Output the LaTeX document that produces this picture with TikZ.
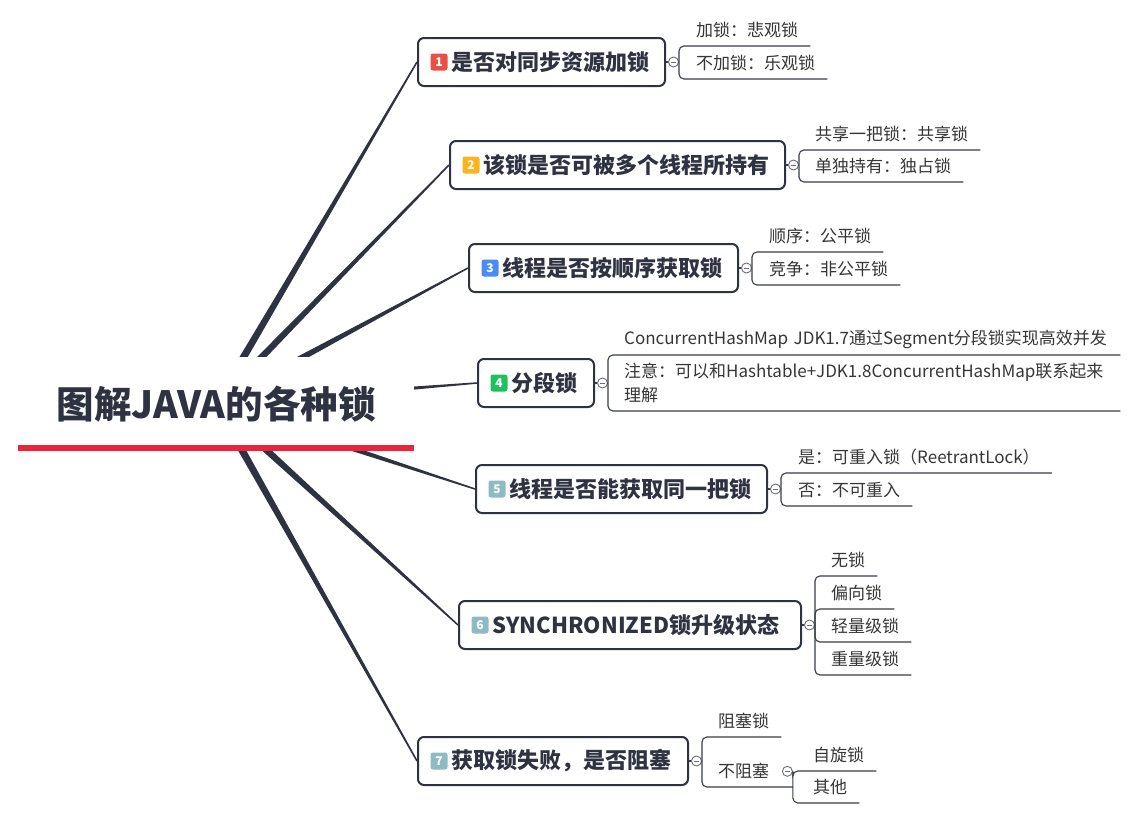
\documentclass[tikz,border=0pt]{standalone}
\usepackage{fontspec}
\newfontfamily\cjk{Noto Sans CJK SC}
\usetikzlibrary{calc}
\definecolor{ink}{HTML}{2F3241}
\definecolor{lineink}{HTML}{3A3D4A}
\definecolor{rootred}{HTML}{E9253E}
\definecolor{cone}{HTML}{EA5045}
\definecolor{ctwo}{HTML}{F8B51E}
\definecolor{cthree}{HTML}{4A8CF5}
\definecolor{cfour}{HTML}{1EC15C}
\definecolor{cgray}{HTML}{8DBAC3}
\definecolor{btnc}{HTML}{6B6E77}
\definecolor{leafc}{HTML}{363636}
\tikzset{
  box/.style={draw=ink, line width=2pt, rounded corners=6pt, fill=white,
    minimum height=48pt, inner sep=0pt, anchor=west},
  badge/.style={rectangle, rounded corners=2.5pt, minimum size=17pt, inner sep=0pt,
    text=white, font=\cjk\bfseries\fontsize{12}{12}\selectfont},
  btext/.style={anchor=west, inner sep=0pt, text=ink,
    font=\cjk\bfseries\fontsize{22}{26}\selectfont},
  btn/.style={circle, draw=btnc, line width=0.9pt, fill=white, minimum size=10pt, inner sep=0pt,
    path picture={\draw[btnc, line width=0.9pt] ([xshift=-2.8pt]path picture bounding box.center) -- ([xshift=2.8pt]path picture bounding box.center);}},
  leaf/.style={anchor=south west, minimum height=31pt, inner sep=0pt, text=leafc,
    font=\cjk\fontsize{17}{22}\selectfont},
  leafline/.style={draw=lineink, line width=1.1pt, rounded corners=5pt},
  stub/.style={draw=lineink, line width=1.1pt},
}
\newcommand\mmtaper[2]{\fill[ink] ($(#1)!4pt!90:(#2)$) -- ($(#2)!0.75pt!-90:(#1)$) -- ($(#2)!0.75pt!90:(#1)$) -- ($(#1)!4pt!-90:(#2)$) -- cycle;}
\begin{document}
\begin{tikzpicture}[x=1pt,y=-1pt]
\useasboundingbox (0,0) rectangle (1138,819);
\fill[white] (0,0) rectangle (1138,819);

% branch boxes
\node[box, minimum width=247pt] (b1) at (417,62) {};
\node[box, minimum width=335pt] (b2) at (449,165) {};
\node[box, minimum width=269pt] (b3) at (468,268) {};
\node[box, minimum width=116pt] (b4) at (477,383) {};
\node[box, minimum width=291pt] (b5) at (475,489) {};
\node[box, minimum width=342pt] (b6) at (458,625) {};
\node[box, minimum width=270pt] (b7) at (417,761) {};

\node[badge, fill=cone] (n1) at ([xshift=22pt]b1.west) {1};
\node[btext] (t1) at ([xshift=4pt]n1.east) {是否对同步资源加锁};
\node[badge, fill=ctwo] (n2) at ([xshift=22pt]b2.west) {2};
\node[btext] (t2) at ([xshift=4pt]n2.east) {该锁是否可被多个线程所持有};
\node[badge, fill=cthree] (n3) at ([xshift=22pt]b3.west) {3};
\node[btext] (t3) at ([xshift=4pt]n3.east) {线程是否按顺序获取锁};
\node[badge, fill=cfour] (n4) at ([xshift=22pt]b4.west) {4};
\node[btext] (t4) at ([xshift=4pt]n4.east) {分段锁};
\node[badge, fill=cgray] (n5) at ([xshift=22pt]b5.west) {5};
\node[btext] (t5) at ([xshift=4pt]n5.east) {线程是否能获取同一把锁};
\node[badge, fill=cgray] (n6) at ([xshift=22pt]b6.west) {6};
\node[btext] (t6) at ([xshift=4pt]n6.east) {SYNCHRONIZED锁升级状态};
\node[badge, fill=cgray] (n7) at ([xshift=22pt]b7.west) {7};
\node[btext] (t7) at ([xshift=4pt]n7.east) {获取锁失败，是否阻塞};

% tapered main connectors
\coordinate (rc) at (216,404);
\mmtaper{rc}{b1.west}
\mmtaper{rc}{b2.west}
\mmtaper{rc}{b3.west}
\mmtaper{rc}{b4.west}
\mmtaper{rc}{b5.west}
\mmtaper{rc}{b6.west}
\mmtaper{rc}{b7.west}

% root
\node[fill=white, minimum width=396pt, minimum height=94pt, inner sep=0pt, text=ink,
  font=\cjk\bfseries\fontsize{37.5}{40}\selectfont] (root) at (216,404) {图解JAVA的各种锁};
\draw[rootred, line width=6pt] ([yshift=3pt]root.south west) -- ([yshift=3pt]root.south east);

% collapse buttons
\node[btn] (c1) at ([xshift=7.5pt]b1.east) {};
\node[btn] (c2) at ([xshift=7.5pt]b2.east) {};
\node[btn] (c3) at ([xshift=7.5pt]b3.east) {};
\node[btn] (c4) at ([xshift=7.5pt]b4.east) {};
\node[btn] (c5) at ([xshift=7.5pt]b5.east) {};
\node[btn] (c6) at ([xshift=7.5pt]b6.east) {};
\node[btn] (c7) at ([xshift=7.5pt]b7.east) {};
\foreach \i in {1,...,7} {\draw[stub] (b\i.east) -- (c\i.west);}

% leaves branch 1
\node[leaf] (l11) at (696,46) {加锁：悲观锁};
\node[leaf] (l12) at (696,79) {不加锁：乐观锁};
\draw[leafline] (c1.east) |- ([xshift=12pt]l11.south east);
\draw[leafline] (c1.east) |- ([xshift=12pt]l12.south east);
% branch 2
\node[leaf] (l21) at (815,150) {共享一把锁：共享锁};
\node[leaf] (l22) at (815,182) {单独持有：独占锁};
\draw[leafline] (c2.east) |- ([xshift=12pt]l21.south east);
\draw[leafline] (c2.east) |- ([xshift=12pt]l22.south east);
% branch 3
\node[leaf] (l31) at (769,252) {顺序：公平锁};
\node[leaf] (l32) at (769,285) {竞争：非公平锁};
\draw[leafline] (c3.east) |- ([xshift=12pt]l31.south east);
\draw[leafline] (c3.east) |- ([xshift=12pt]l32.south east);
% branch 4
\node[leaf, text width=484pt, align=left] (l41) at (624,355) {ConcurrentHashMap JDK1.7通过Segment分段锁实现高效并发};
\node[leaf, text width=484pt, align=left, minimum height=56pt, font=\cjk\fontsize{17}{24}\selectfont] (l42) at (624,411) {注意：可以和Hashtable+JDK1.8ConcurrentHashMap联系起来\\理解};
\draw[leafline] (c4.east) |- ([xshift=12pt]l41.south east);
\draw[leafline] (c4.east) |- ([xshift=12pt]l42.south east);
% branch 5
\node[leaf] (l51) at (798,473) {是：可重入锁（ReetrantLock）};
\node[leaf] (l52) at (798,506) {否：不可重入};
\draw[leafline] (c5.east) |- ([xshift=12pt]l51.south east);
\draw[leafline] (c5.east) |- ([xshift=12pt]l52.south east);
% branch 6
\node[leaf] (l61) at (831,576) {无锁};
\node[leaf] (l62) at (831,609) {偏向锁};
\node[leaf] (l63) at (831,642) {轻量级锁};
\node[leaf] (l64) at (831,675) {重量级锁};
\foreach \j in {1,...,4} {\draw[leafline] (c6.east) |- ([xshift=12pt]l6\j.south east);}
% branch 7
\node[leaf] (l71) at (718,737) {阻塞锁};
\node[leaf] (l72) at (718,787) {不阻塞};
\node[btn] (c72) at ([xshift=18pt]l72.east) {};
\draw[leafline] (c7.east) |- ([xshift=12pt]l71.south east);
\draw[leafline] (c7.east) |- (c72.east |- l72.south);
\node[leaf] (l721) at (813,771) {自旋锁};
\node[leaf] (l722) at (813,803) {其他};
\draw[leafline] (c72.east) |- ([xshift=12pt]l721.south east);
\draw[leafline] (c72.east) |- ([xshift=12pt]l722.south east);
\end{tikzpicture}
\end{document}
